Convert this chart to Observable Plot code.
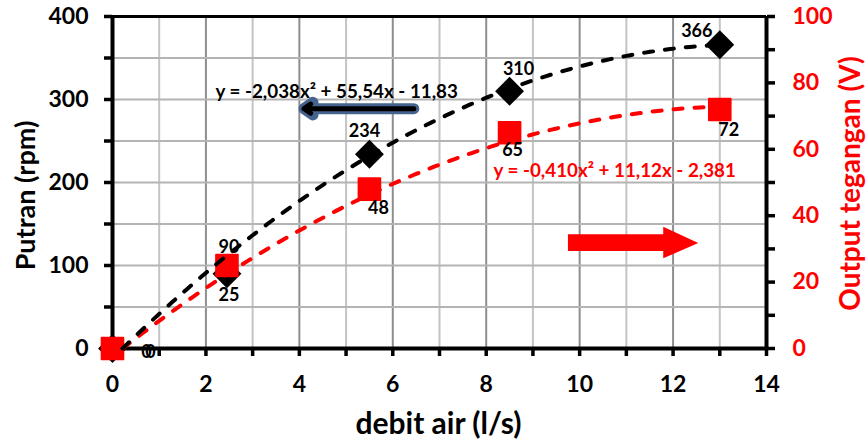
<!DOCTYPE html>
<html>
<head>
<meta charset="utf-8">
<script src="https://cdn.jsdelivr.net/npm/d3@7"></script>
<script src="https://cdn.jsdelivr.net/npm/@observablehq/plot@0.6"></script>
<style>
  body { margin: 0; background: #fff; }
  #chart svg { display: block; }
</style>
</head>
<body>
<div id="chart"></div>
<script>
// ---- data ----
const debit    = [0, 2.45, 5.5, 8.5, 13];      // debit air (l/s)
const putran   = [0, 90, 234, 310, 366];        // Putran (rpm)
const tegangan = [0, 25, 48, 65, 72];           // Output tegangan (V)
const labelsPutran   = ["0", "90", "234", "310", "366"];
const labelsTegangan = ["0", "25", "48", "65", "72"];
const xTicks      = [0, 2, 4, 6, 8, 10, 12, 14];
const yLeftTicks  = [0, 100, 200, 300, 400];
const yRightTicks = [0, 20, 40, 60, 80, 100];
// polynomial trendline coefficients (a x^2 + b x + c), as printed
const coefPutran   = [-2.038, 55.54, -11.83];
const coefTegangan = [-0.410, 11.12, -2.381];
const eqPutran   = "y = -2,038x² + 55,54x - 11,83";
const eqTegangan = "y = -0,410x² + 11,12x - 2,381";
// annotation arrows (data units; right arrow y in rpm units)
const blueArrow = [{x1: 6.45, y1: 289, x2: 4.1, y2: 289}];
const redArrow = [
  {x: 9.76, y1: 117, y2: 137},
  {x: 11.8, y1: 117, y2: 137},
  {x: 11.8, y1: 108, y2: 146},
  {x: 12.55, y1: 126.5, y2: 126.5}
];

const K = 4; // rpm per volt on the shared vertical scale
const FONT = "Lato, 'Open Sans', sans-serif";

const pts = debit.map((x, i) => ({
  x, rpm: putran[i], v: tegangan[i], vy: tegangan[i] * K,
  lp: labelsPutran[i], lt: labelsTegangan[i], i
}));

function trend(coef, scale, xmax) {
  const [a, b, c] = coef;
  const disc = Math.sqrt(b * b - 4 * a * c);
  const roots = [(-b + disc) / (2 * a), (-b - disc) / (2 * a)].filter(r => r >= 0);
  const lo = Math.max(0, Math.min(...roots));
  return d3.range(121).map(j => {
    const x = lo + (xmax - lo) * j / 120;
    return {x, y: (a * x * x + b * x + c) * scale};
  });
}
const trendP = trend(coefPutran, 1, 13);
const trendV = trend(coefTegangan, K, 13);

// per-label pixel offsets (style, not data)
const offP = [[34, 4], [2, -27], [-5, -23], [9, -22], [-23, -13]];
const offV = [[38, 4], [2, 30], [9, 19], [3, 18], [9, 21]];

const labelMarks = [];
pts.forEach((d, i) => {
  labelMarks.push(Plot.text([d], {x: "x", y: "rpm", text: "lp", dx: offP[i][0], dy: offP[i][1],
    fill: "black", fontSize: 18, fontWeight: "bold", fontFamily: FONT, lineAnchor: "middle"}));
  labelMarks.push(Plot.text([d], {x: "x", y: d.x === 0 ? "rpm" : "vy", text: "lt", dx: offV[i][0], dy: offV[i][1],
    fill: "black", fontSize: 18, fontWeight: "bold", fontFamily: FONT, lineAnchor: "middle"}));
});

const gridX = d3.range(1, 14);
const gridY = d3.range(50, 400, 50);
const axisText = {fontSize: 23, fontWeight: "bold", fontFamily: FONT};

const chart = Plot.plot({
  width: 868,
  height: 445,
  marginLeft: 112,
  marginRight: 102,
  marginTop: 16,
  marginBottom: 97,
  style: {background: "white", fontFamily: FONT, overflow: "visible"},
  x: {domain: [0, 14], label: null},
  y: {domain: [0, 400], label: null},
  marks: [
    // grid
    Plot.ruleX(gridX.filter(v => v % 2 === 1), {stroke: "#c4c4c4", strokeWidth: 2}),
    Plot.ruleX(gridX.filter(v => v % 2 === 0), {stroke: "#8e8e8e", strokeWidth: 2}),
    Plot.ruleY(gridY, {stroke: "#b4b4b4", strokeWidth: 2}),
    // axes
    Plot.axisX({ticks: xTicks, tickSize: 8, tickPadding: 19, strokeWidth: 3.5, stroke: "black", fill: "black", ...axisText}),
    Plot.axisX({ticks: d3.range(1, 14, 2), tickSize: 8, tickFormat: () => "", strokeWidth: 3.5, stroke: "black"}),
    Plot.axisY({anchor: "left", ticks: yLeftTicks, tickSize: 8, tickPadding: 16, strokeWidth: 3.5, stroke: "black", fill: "black", ...axisText}),
    Plot.axisY({anchor: "left", ticks: d3.range(50, 400, 100), tickSize: 8, tickFormat: () => "", strokeWidth: 3.5, stroke: "black"}),
    Plot.axisY({anchor: "right", ticks: yRightTicks.map(v => v * K), tickFormat: d => d / K, tickSize: 8, tickPadding: 18,
      strokeWidth: 3.5, stroke: "black", fill: "#ff0000", ...axisText}),
    Plot.axisY({anchor: "right", ticks: d3.range(10, 100, 20).map(v => v * K), tickFormat: () => "", tickSize: 8, strokeWidth: 3.5, stroke: "black"}),
    // frame lines
    Plot.ruleY([400], {stroke: "black", strokeWidth: 3}),
    Plot.ruleX([14], {stroke: "black", strokeWidth: 4}),
    Plot.ruleX([0], {stroke: "black", strokeWidth: 4}),
    Plot.ruleY([0], {stroke: "black", strokeWidth: 4}),
    // annotation arrows
    Plot.arrow(blueArrow, {x1: "x1", y1: "y1", x2: "x2", y2: "y2", stroke: "#44648f", strokeWidth: 11, headLength: 1.5, headAngle: 70, strokeLinejoin: "round"}),
    Plot.arrow(blueArrow, {x1: "x1", y1: "y1", x2: "x2", y2: "y2", stroke: "black", strokeWidth: 5, headLength: 2.4, headAngle: 70}),
    Plot.areaY(redArrow, {x: "x", y1: "y1", y2: "y2", fill: "#ff0000", curve: "linear"}),
    // markers
    Plot.dot(pts, {x: "x", y: "rpm", symbol: "diamond2", r: 13, fill: "black"}),
    Plot.dot(pts, {x: "x", y: "vy", symbol: "square", r: 12.2, fill: "#ff0000", stroke: "#ff0000", strokeWidth: 2, strokeLinejoin: "round"}),
    // trendlines
    Plot.line(trendV, {x: "x", y: "y", stroke: "#ff0000", strokeWidth: 4, strokeDasharray: "9,12", strokeLinecap: "round"}),
    Plot.line(trendP, {x: "x", y: "y", stroke: "black", strokeWidth: 4, strokeDasharray: "9,12", strokeLinecap: "round"}),
    // data labels
    ...labelMarks,
    // equations
    Plot.text([eqPutran], {frameAnchor: "top-left", dx: 103, dy: 75, textAnchor: "start", lineAnchor: "middle",
      fill: "black", fontSize: 18.8, fontWeight: "bold", fontFamily: FONT}),
    Plot.text([eqTegangan], {frameAnchor: "top-left", dx: 381, dy: 154, textAnchor: "start", lineAnchor: "middle",
      fill: "#ff0000", fontSize: 18.8, fontWeight: "bold", fontFamily: FONT}),
    // axis titles
    Plot.text(["Putran (rpm)"], {frameAnchor: "left", dx: -86, dy: 13, rotate: -90, textAnchor: "middle", lineAnchor: "middle",
      fill: "black", fontSize: 27, fontWeight: "bold", fontFamily: FONT}),
    Plot.text(["Output tegangan (V)"], {frameAnchor: "right", dx: 85, dy: 1, rotate: -90, textAnchor: "middle", lineAnchor: "middle",
      fill: "#ff0000", fontSize: 28, fontWeight: "bold", fontFamily: FONT}),
    Plot.text(["debit air (l/s)"], {frameAnchor: "bottom", dx: -1, dy: 76, textAnchor: "middle", lineAnchor: "middle",
      fill: "black", fontSize: 30, fontWeight: "bold", fontFamily: FONT})
  ]
});
document.getElementById("chart").appendChild(chart);
</script>
</body>
</html>
